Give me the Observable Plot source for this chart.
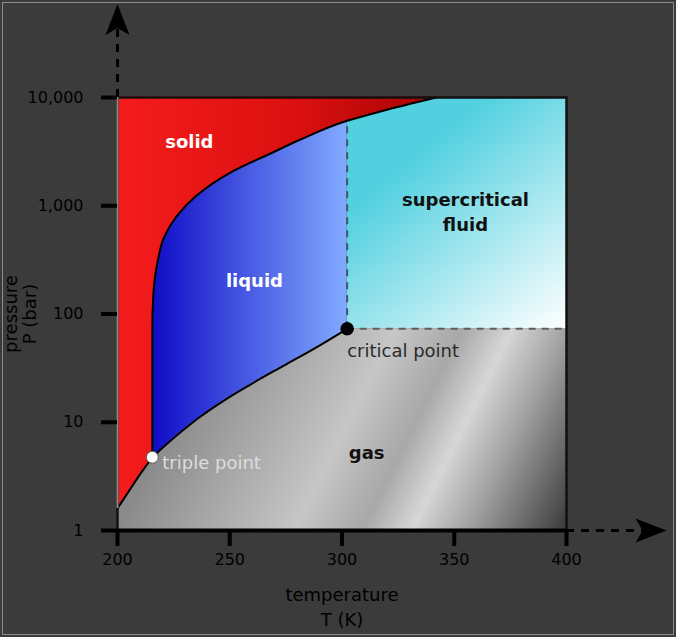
<!DOCTYPE html>
<html><head><meta charset="utf-8">
<script src="https://cdn.jsdelivr.net/npm/d3@7"></script>
<script src="https://cdn.jsdelivr.net/npm/@observablehq/plot@0.6"></script>
<style>
html,body{margin:0;padding:0;background:#3b3b3b;}
#chart svg{display:block;outline:1.5px solid #8c8c8c;outline-offset:-3px;}
</style></head><body><div id="chart"></div>
<script>
// ---- data ----
const xTicks = [200, 250, 300, 350, 400];
const yTicks = [1, 10, 100, 1000, 10000];
const Tmin = 200, Tmax = 400, Pmin = 1, Pmax = 10000;
const tripleT = 215.5, tripleP = 4.75;
const criticalT = 302.3, criticalP = 73;
// sublimation curve
const subT = [200, 205, 210, 215.5];
const subP = [1.6, 2.3, 3.3, 4.75];
// vaporisation curve
const vapT = [215.5, 225.8, 237.0, 248.1, 259.2, 273.9, 289.0, 302.3];
const vapP = [4.75, 7.37, 11.3, 16.2, 22.3, 33.2, 49.8, 73];
// melting curve
const meltT = [215.5, 215.5, 215.5, 215.9, 217.7, 220.9, 226.3, 234.7, 250.3, 268.2, 281.5, 302.3, 317.1, 342];
const meltP = [4.75, 20, 70, 143, 293, 520, 796, 1217, 2028, 3040, 4090, 6100, 7430, 10000];
// region labels
const regionNames = ["solid", "liquid", "supercritical\nfluid", "gas"];
const regionT = [232, 261, 355, 311];
const regionP = [3900, 200, 910, 5.4];
const pointNames = ["triple point", "critical point"];
// axis arrow extents (beyond the domain)
const axisEndT = 437, axisEndP = 51000;

const toRows = (ts, ps) => ts.map((T, i) => ({T, P: ps[i]}));
const sub = toRows(subT, subP), vap = toRows(vapT, vapP), melt = toRows(meltT, meltP);
const meltAtTc = meltP[meltT.indexOf(criticalT)];
const regions = regionNames.map((name, i) => ({name, T: regionT[i], P: regionP[i]}));

const arrowUp = {draw(c) { c.moveTo(0, -17); c.lineTo(12, 14); c.lineTo(0, 7); c.lineTo(-12, 14); c.closePath(); }};
const arrowRight = {draw(c) { c.moveTo(17, 0); c.lineTo(-14, 12); c.lineTo(-7, 0); c.lineTo(-14, -12); c.closePath(); }};

const chart = Plot.plot({
  width: 676, height: 637,
  marginLeft: 117, marginRight: 110, marginTop: 97, marginBottom: 107,
  x: {domain: [Tmin, Tmax]},
  y: {type: "log", domain: [Pmin, Pmax]},
  style: {background: "#3b3b3b", color: "#000", fontFamily: "'DejaVu Sans', sans-serif", fontSize: "16px", overflow: "visible"},
  marks: [
    // fills
    Plot.rect([0], {x1: Tmin, x2: Tmax, y1: Pmin, y2: criticalP, fill: "url(#gasGrad)"}),
    Plot.rect([0], {x1: criticalT, x2: Tmax, y1: criticalP, y2: Pmax, fill: "url(#scGrad)"}),
    Plot.areaY(vap, {x: "T", y1: "P", y2: Pmax, curve: "monotone-x", fill: "url(#liqGrad)"}),
    Plot.areaY(sub, {x: "T", y1: "P", y2: Pmax, fill: "url(#solidGrad)", stroke: "url(#solidGrad)", strokeWidth: 1}),
    Plot.areaX(melt, {y: "P", x1: Tmin, x2: "T", curve: "monotone-y", fill: "url(#solidGrad)", stroke: "url(#solidGrad)", strokeWidth: 1}),
    // dashed boundaries
    Plot.ruleX([criticalT], {y1: criticalP, y2: meltAtTc, stroke: "#3d5866", strokeWidth: 2, strokeDasharray: "7,6"}),
    Plot.ruleY([criticalP], {x1: criticalT, x2: Tmax, stroke: "#5e5e5e", strokeWidth: 2, strokeDasharray: "7,6"}),
    // phase curves
    Plot.line(sub, {x: "T", y: "P", stroke: "#000", strokeWidth: 2}),
    Plot.line(vap, {x: "T", y: "P", curve: "monotone-x", stroke: "#000", strokeWidth: 2}),
    Plot.line(melt, {x: "T", y: "P", curve: "monotone-y", stroke: "#000", strokeWidth: 2}),
    // frame & axes
    Plot.frame({stroke: "#111", strokeWidth: 2.5}),
    Plot.ruleX([Tmin], {y1: subP[0], y2: Pmax, stroke: "#8a8a8a", strokeWidth: 2}),
    Plot.ruleY([Pmin], {x1: Tmin, x2: Tmax, stroke: "#000", strokeWidth: 4}),
    Plot.axisX({ticks: xTicks, tickSize: 16, tickPadding: 7, strokeWidth: 4, fontSize: 16, label: null}),
    Plot.axisY({ticks: yTicks, tickFormat: d3.format(","), tickSize: 16, tickPadding: 18, strokeWidth: 4, fontSize: 16, label: null}),
    // axis arrows
    Plot.ruleX([Tmin], {y1: Pmax, y2: axisEndP, stroke: "#000", strokeWidth: 3, strokeDasharray: "8,7"}),
    Plot.ruleY([Pmin], {x1: Tmax, x2: axisEndT, stroke: "#000", strokeWidth: 3, strokeDasharray: "8,7"}),
    Plot.dot([0], {x: Tmin, y: axisEndP, symbol: arrowUp, fill: "#000", stroke: "none"}),
    Plot.dot([0], {x: axisEndT, y: Pmin, symbol: arrowRight, fill: "#000", stroke: "none"}),
    // axis titles
    Plot.text(["temperature\nT (K)"], {frameAnchor: "bottom", lineAnchor: "middle", textAnchor: "middle", dy: 75, fontSize: 18, lineHeight: 1.4, fill: "#000"}),
    Plot.text(["pressure\nP (bar)"], {frameAnchor: "left", lineAnchor: "middle", textAnchor: "middle", dx: -97, rotate: -90, fontSize: 18, lineHeight: 1.05, fill: "#000"}),
    // special points
    Plot.dot([{T: tripleT, P: tripleP}], {x: "T", y: "P", r: 6, fill: "#fff", stroke: "#555", strokeWidth: 1}),
    Plot.dot([{T: criticalT, P: criticalP}], {x: "T", y: "P", r: 6, fill: "#000", stroke: "#000"}),
    Plot.text([{T: tripleT, P: tripleP}], {x: "T", y: "P", text: () => pointNames[0], textAnchor: "start", dx: 10, dy: 6, fontSize: 18, fill: "#dddddd"}),
    Plot.text([{T: criticalT, P: criticalP}], {x: "T", y: "P", text: () => pointNames[1], textAnchor: "start", dx: 0, dy: 22, fontSize: 18, fill: "#2a2a2a"}),
    // region labels
    Plot.text(regions.slice(0, 2), {x: "T", y: "P", text: "name", fill: "#fff", fontWeight: "bold", fontSize: 18}),
    Plot.text(regions.slice(2), {x: "T", y: "P", text: "name", fill: "#111", fontWeight: "bold", fontSize: 18, lineHeight: 1.4})
  ]
});

// gradients placed via the chart's own scales
const sx = chart.scale("x"), sy = chart.scale("y");
const X = v => sx.apply(v), Y = v => sy.apply(v);
const defs = d3.select(chart).insert("defs", ":first-child");
function grad(id, x1, y1, x2, y2, stops) {
  const g = defs.append("linearGradient").attr("id", id).attr("gradientUnits", "userSpaceOnUse")
    .attr("x1", x1).attr("y1", y1).attr("x2", x2).attr("y2", y2);
  stops.forEach(([o, c]) => g.append("stop").attr("offset", o).attr("stop-color", c));
}
grad("solidGrad", X(Tmin), 0, X(342), 0, [[0, "#f51c1c"], [0.55, "#dc1010"], [1, "#a80404"]]);
grad("liqGrad", X(tripleT), 0, X(criticalT), 0, [[0, "#0f0cc6"], [1, "#82aaff"]]);
grad("scGrad", X(335), Y(3000), X(Tmax), Y(criticalP), [[0, "#52d0e0"], [1, "#ffffff"]]);
grad("gasGrad", X(237), Y(37), X(397), Y(0.81), [[0, "#8a8a8a"], [0.4, "#c6c6c6"], [0.55, "#a8a8a8"], [0.66, "#d6d6d6"], [0.8, "#9a9a9a"], [1, "#3c3c3c"]]);

document.getElementById("chart").appendChild(chart);
</script></body></html>
